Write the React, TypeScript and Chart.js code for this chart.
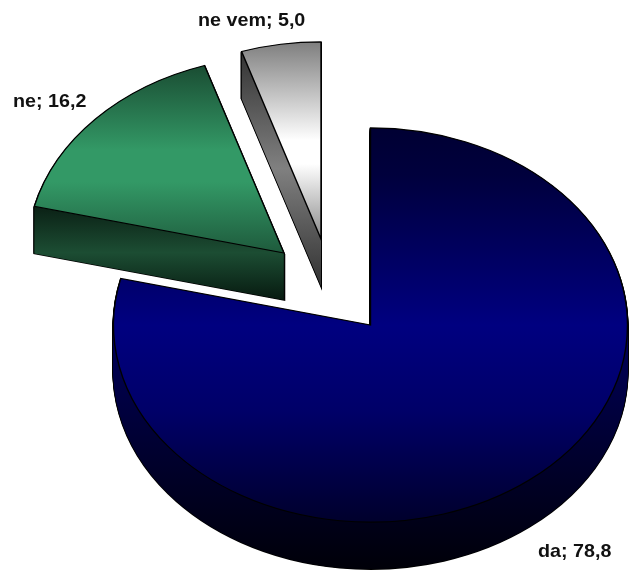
import React, { useEffect, useRef } from "react";
import { Chart, registerables } from "chart.js";

Chart.register(...registerables);

const categories = ["da", "ne", "ne vem"];
const values = [78.8, 16.2, 5.0];
const baseColors = ["#000080", "#339966", "#ffffff"];

// Look of the tilted, exploded 3D pie
const CENTER = { x: 370.5, y: 325 };
const TILT = 0.767;
const DEPTH = 47;
const RADIUS = 257;
const explode = [
  { x: 0, y: 0 },
  { x: -86.5, y: -72 },
  { x: -49.5, y: -86 },
];
type Stops = [number, number, [number, string][]];
const topFaces: Stops[] = [
  [128, 522, [[0, "#000033"], [0.12, "#00003d"], [0.5, "#000080"], [0.72, "#000068"], [1, "#00002c"]]],
  [66, 253, [[0, "#1a4d33"], [0.45, "#339966"], [0.62, "#339966"], [1, "#1e5a3c"]]],
  [43, 238, [[0, "#808080"], [0.5, "#ffffff"], [0.62, "#ffffff"], [1, "#8c8c8c"]]],
];
const sideFaces: Stops[] = [
  [330, 570, [[0, "#00005a"], [0.5, "#000030"], [1, "#000008"]]],
  [205, 300, [[0, "#0a1f14"], [0.5, "#1c4d33"], [1, "#071a10"]]],
  [52, 285, [[0, "#333333"], [0.5, "#808080"], [1, "#333333"]]],
];
const labelSpots = [
  { x: 538, y: 557 },
  { x: 13, y: 106.5 },
  { x: 198, y: 26 },
];

const piePlugin = {
  id: "tiltedPie",
  beforeDatasetDraw(chart: any) {
    const ctx = chart.ctx;
    const arcs = chart.getDatasetMeta(0).data;
    const drawArc = (arc: any, i: number, d: number, stops: Stops, borderWidth: number) => {
      const ty = CENTER.y + explode[i].y + d;
      const toLocal = (sy: number) => arc.y + (sy - ty) / TILT;
      const g = ctx.createLinearGradient(0, toLocal(stops[0]), 0, toLocal(stops[1]));
      stops[2].forEach(([p, c]) => g.addColorStop(p, c));
      const view = Object.create(arc);
      view.options = {
        backgroundColor: g,
        borderColor: "#000000",
        borderWidth,
        borderAlign: "center",
        borderJoinStyle: "miter",
        borderRadius: 0,
        spacing: 0,
        offset: 0,
        circular: true,
        borderDash: [],
        borderDashOffset: 0,
      };
      ctx.save();
      ctx.translate(CENTER.x + explode[i].x, ty);
      ctx.scale(1, TILT);
      ctx.translate(-arc.x, -arc.y);
      arc.draw.call(view, ctx);
      ctx.restore();
    };
    arcs.forEach((arc: any, i: number) => {
      for (let d = DEPTH; d >= 1; d--) drawArc(arc, i, d, sideFaces[i], 2);
      for (let d = DEPTH; d >= 1; d--) drawArc(arc, i, d, sideFaces[i], 0);
      drawArc(arc, i, 0, topFaces[i], 1.4);
    });
    return false;
  },
  afterDraw(chart: any) {
    const ctx = chart.ctx;
    ctx.save();
    ctx.fillStyle = "#111111";
    ctx.font = 'bold 18.5px "Liberation Sans", Arial, sans-serif';
    ctx.textBaseline = "alphabetic";
    categories.forEach((c, i) => {
      const text = `${c}; ${values[i].toFixed(1).replace(".", ",")}`;
      ctx.save();
      ctx.translate(labelSpots[i].x, labelSpots[i].y);
      ctx.scale(1.065, 1);
      ctx.fillText(text, 0, 0);
      ctx.restore();
    });
    ctx.restore();
  },
};

export default function App() {
  const ref = useRef<HTMLCanvasElement>(null);
  useEffect(() => {
    const chart = new Chart(ref.current as HTMLCanvasElement, {
      type: "pie",
      data: {
        labels: categories,
        datasets: [{ data: values, backgroundColor: baseColors, borderWidth: 0, radius: RADIUS } as any],
      },
      options: {
        responsive: false,
        animation: false,
        events: [],
        layout: { padding: 0 },
        plugins: { legend: { display: false }, tooltip: { enabled: false } },
      },
      plugins: [piePlugin as any],
    });
    return () => chart.destroy();
  }, []);
  return (
    <canvas
      ref={ref}
      width={630}
      height={571}
      style={{ position: "absolute", left: 0, top: 0, width: 630, height: 571, display: "block" }}
    />
  );
}
